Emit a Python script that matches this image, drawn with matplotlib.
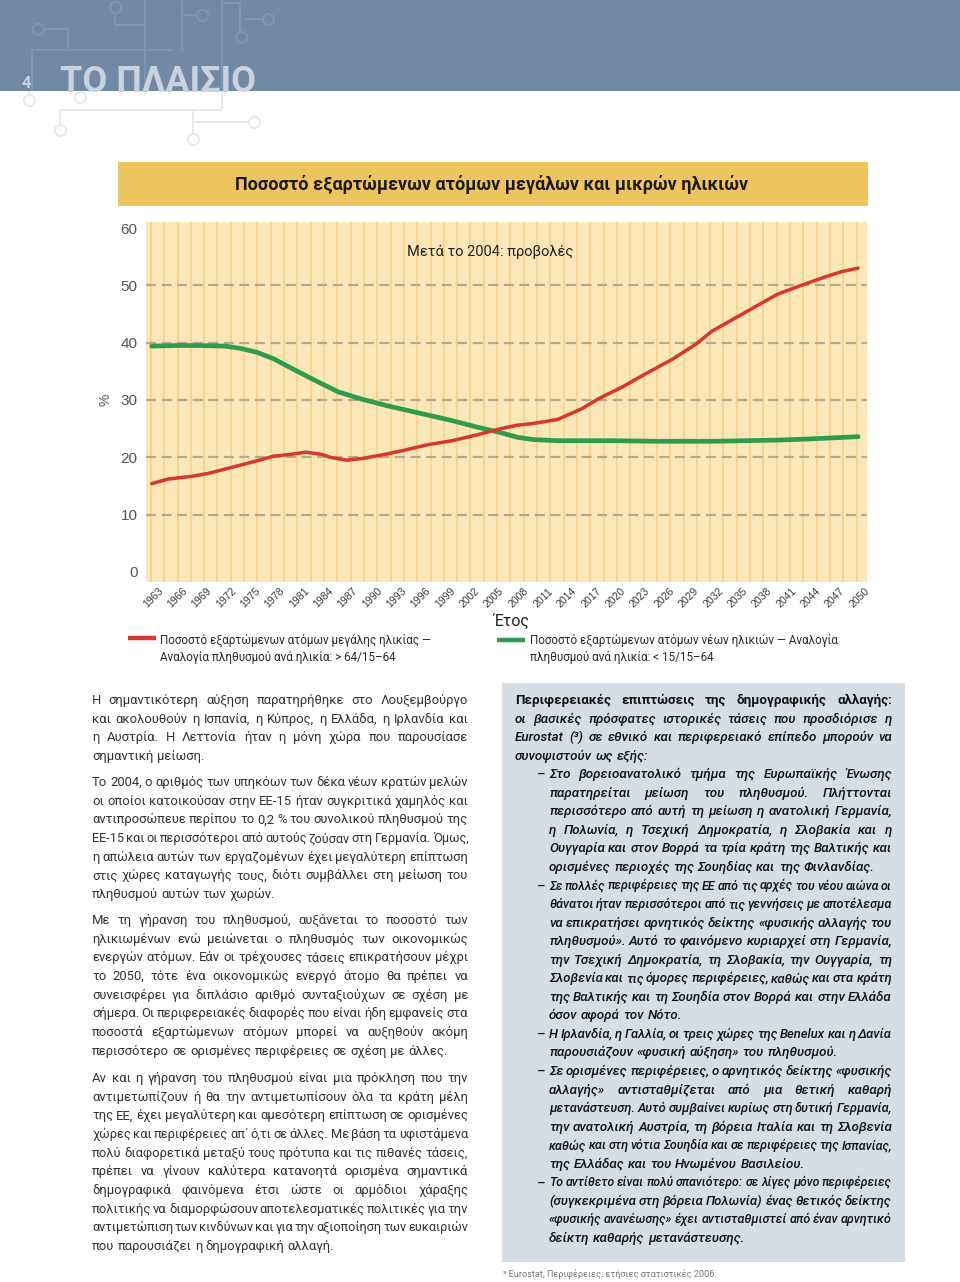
import numpy as np
import matplotlib.pyplot as plt
from matplotlib.patches import Rectangle
from matplotlib.lines import Line2D
from matplotlib.transforms import ScaledTranslation

# -----------------------------
# Data
# -----------------------------
old_years = [1963, 1965, 1968, 1970, 1973, 1976, 1978, 1980, 1982, 1984, 1985, 1987,
             1989, 1992, 1994, 1997, 2000, 2003, 2006, 2008, 2010, 2013, 2016, 2018,
             2021, 2024, 2027, 2030, 2032, 2035, 2038, 2040, 2043, 2046, 2048, 2050]
old_ratio = [15.4, 16.2, 16.7, 17.2, 18.3, 19.4, 20.2, 20.5, 20.9, 20.5, 20.0, 19.5,
             19.8, 20.6, 21.2, 22.2, 22.9, 23.9, 25.0, 25.6, 25.9, 26.6, 28.5, 30.2,
             32.3, 34.7, 37.0, 39.7, 42.0, 44.4, 46.8, 48.4, 50.0, 51.5, 52.4, 53.0]

young_years = [1963, 1966, 1969, 1972, 1974, 1976, 1978, 1980, 1983, 1986, 1989, 1992,
               1996, 2000, 2003, 2006, 2008, 2010, 2013, 2016, 2020, 2025, 2028, 2032,
               2036, 2040, 2044, 2047, 2050]
young_ratio = [39.4, 39.5, 39.5, 39.4, 39.0, 38.3, 37.2, 35.7, 33.5, 31.4, 30.1, 29.0,
               27.7, 26.4, 25.3, 24.3, 23.5, 23.1, 22.9, 22.9, 22.9, 22.8, 22.8, 22.8,
               22.9, 23.0, 23.2, 23.4, 23.6]

tick_years = list(range(1963, 2051, 3))
y_ticks = [0, 10, 20, 30, 40, 50, 60]

chart_title = "Ποσοστό εξαρτώμενων ατόμων μεγάλων και μικρών ηλικιών"
note_text = "Μετά το 2004: προβολές"
old_label = ["Ποσοστό εξαρτώμενων ατόμων μεγάλης ηλικίας —",
             "Αναλογία πληθυσμού ανά ηλικία: > 64/15–64"]
young_label = ["Ποσοστό εξαρτώμενων ατόμων νέων ηλικιών — Αναλογία",
               "πληθυσμού ανά ηλικία: < 15/15–64"]

left_paragraphs = [
    ["Η σημαντικότερη αύξηση παρατηρήθηκε στο Λουξεμβούργο",
     "και ακολουθούν η Ισπανία, η Κύπρος, η Ελλάδα, η Ιρλανδία και",
     "η Αυστρία. Η Λεττονία ήταν η μόνη χώρα που παρουσίασε",
     "σημαντική μείωση."],
    ["Το 2004, ο αριθμός των υπηκόων των δέκα νέων κρατών μελών",
     "οι οποίοι κατοικούσαν στην ΕΕ-15 ήταν συγκριτικά χαμηλός και",
     "αντιπροσώπευε περίπου το 0,2 % του συνολικού πληθυσμού της",
     "ΕΕ-15 και οι περισσότεροι από αυτούς ζούσαν στη Γερμανία. Όμως,",
     "η απώλεια αυτών των εργαζομένων έχει μεγαλύτερη επίπτωση",
     "στις χώρες καταγωγής τους, διότι συμβάλλει στη μείωση του",
     "πληθυσμού αυτών των χωρών."],
    ["Με τη γήρανση του πληθυσμού, αυξάνεται το ποσοστό των",
     "ηλικιωμένων ενώ μειώνεται ο πληθυσμός των οικονομικώς",
     "ενεργών ατόμων. Εάν οι τρέχουσες τάσεις επικρατήσουν μέχρι",
     "το 2050, τότε ένα οικονομικώς ενεργό άτομο θα πρέπει να",
     "συνεισφέρει για διπλάσιο αριθμό συνταξιούχων σε σχέση με",
     "σήμερα. Οι περιφερειακές διαφορές που είναι ήδη εμφανείς στα",
     "ποσοστά εξαρτώμενων ατόμων μπορεί να αυξηθούν ακόμη",
     "περισσότερο σε ορισμένες περιφέρειες σε σχέση με άλλες."],
    ["Αν και η γήρανση του πληθυσμού είναι μια πρόκληση που την",
     "αντιμετωπίζουν ή θα την αντιμετωπίσουν όλα τα κράτη μέλη",
     "της ΕΕ, έχει μεγαλύτερη και αμεσότερη επίπτωση σε ορισμένες",
     "χώρες και περιφέρειες απ΄ ό,τι σε άλλες. Με βάση τα υφιστάμενα",
     "πολύ διαφορετικά μεταξύ τους πρότυπα και τις πιθανές τάσεις,",
     "πρέπει να γίνουν καλύτερα κατανοητά ορισμένα σημαντικά",
     "δημογραφικά φαινόμενα έτσι ώστε οι αρμόδιοι χάραξης",
     "πολιτικής να διαμορφώσουν αποτελεσματικές πολιτικές για την",
     "αντιμετώπιση των κινδύνων και για την αξιοποίηση των ευκαιριών",
     "που παρουσιάζει η δημογραφική αλλαγή."],
]
left_starts = [700, 782, 920, 1078]

box_head = "Περιφερειακές επιπτώσεις της δημογραφικής αλλαγής:"
box_intro = ["οι βασικές πρόσφατες ιστορικές τάσεις που προσδιόρισε η",
             "Eurostat (³) σε εθνικό και περιφερειακό επίπεδο μπορούν να",
             "συνοψιστούν ως εξής:"]
box_bullets = [
    ["Στο βορειοανατολικό τμήμα της Ευρωπαϊκής Ένωσης",
     "παρατηρείται μείωση του πληθυσμού. Πλήττονται",
     "περισσότερο από αυτή τη μείωση η ανατολική Γερμανία,",
     "η Πολωνία, η Τσεχική Δημοκρατία, η Σλοβακία και η",
     "Ουγγαρία και στον Βορρά τα τρία κράτη της Βαλτικής και",
     "ορισμένες περιοχές της Σουηδίας και της Φινλανδίας."],
    ["Σε πολλές περιφέρειες της ΕΕ από τις αρχές του νέου αιώνα οι",
     "θάνατοι ήταν περισσότεροι από τις γεννήσεις με αποτέλεσμα",
     "να επικρατήσει αρνητικός δείκτης «φυσικής αλλαγής του",
     "πληθυσμού». Αυτό το φαινόμενο κυριαρχεί στη Γερμανία,",
     "την Τσεχική Δημοκρατία, τη Σλοβακία, την Ουγγαρία, τη",
     "Σλοβενία και τις όμορες περιφέρειες, καθώς και στα κράτη",
     "της Βαλτικής και τη Σουηδία στον Βορρά και στην Ελλάδα",
     "όσον αφορά τον Νότο."],
    ["Η Ιρλανδία, η Γαλλία, οι τρεις χώρες της Benelux και η Δανία",
     "παρουσιάζουν «φυσική αύξηση» του πληθυσμού."],
    ["Σε ορισμένες περιφέρειες, ο αρνητικός δείκτης «φυσικής",
     "αλλαγής» αντισταθμίζεται από μια θετική καθαρή",
     "μετανάστευση. Αυτό συμβαίνει κυρίως στη δυτική Γερμανία,",
     "την ανατολική Αυστρία, τη βόρεια Ιταλία και τη Σλοβενία",
     "καθώς και στη νότια Σουηδία και σε περιφέρειες της Ισπανίας,",
     "της Ελλάδας και του Ηνωμένου Βασιλείου."],
    ["Το αντίθετο είναι πολύ σπανιότερο: σε λίγες μόνο περιφέρειες",
     "(συγκεκριμένα στη βόρεια Πολωνία) ένας θετικός δείκτης",
     "«φυσικής ανανέωσης» έχει αντισταθμιστεί από έναν αρνητικό",
     "δείκτη καθαρής μετανάστευσης."],
]
footnote = "³ Eurostat, Περιφέρειες: ετήσιες στατιστικές 2006."

# -----------------------------
# Page setup
# -----------------------------
W, H = 960, 1282
fig = plt.figure(figsize=(W / 100, H / 100), dpi=100)
fig.patch.set_facecolor("white")

NARROW = ["Roboto", "DejaVu Sans"]
BODY = ["Roboto", "DejaVu Sans"]
ARIAL = ["Liberation Sans", "DejaVu Sans"]

RED = "#d8382c"
GREEN = "#2e9c4c"


def fx(x):
    return x / W


def fy(y):
    return 1 - y / H


def rect(x0, y0, x1, y1, color, z=0):
    fig.add_artist(Rectangle((fx(x0), fy(y1)), (x1 - x0) / W, (y1 - y0) / H,
                             transform=fig.transFigure, color=color, zorder=z, lw=0))


def seg(xs, ys, color, lw=1.5, z=1):
    fig.add_artist(Line2D([fx(v) for v in xs], [fy(v) for v in ys], color=color,
                          lw=lw, transform=fig.transFigure, zorder=z,
                          solid_capstyle="butt"))


def ring(x, y, color, ms=8, z=1):
    fig.add_artist(Line2D([fx(x)], [fy(y)], marker="o", ms=ms, mfc="none", mec=color,
                          mew=1.5, transform=fig.transFigure, zorder=z))


# header band with circuit decoration
rect(0, 0, W, 91, "#7189a4")
dec_in = "#7f96af"
seg([43, 68, 68], [29, 29, 50], dec_in); ring(38, 29, dec_in)
seg([32, 32], [50, 91], dec_in); seg([32, 173], [50, 50], dec_in)
seg([115, 115, 145], [12, 25, 25], dec_in); ring(115, 7, dec_in)
seg([145, 145], [0, 91], dec_in)
seg([182, 182], [0, 50], dec_in); seg([182, 197], [15, 15], dec_in); ring(202, 15, dec_in)
seg([222, 222], [0, 91], dec_in); seg([222, 240, 240], [3, 3, 32], dec_in); ring(241, 37, dec_in)
seg([245, 263], [19, 19], dec_in); ring(268, 19, dec_in)
dec_out = "#e7ebf0"
seg([29, 29], [91, 96], dec_out); ring(29, 100, dec_out)
seg([80, 80], [91, 93], dec_out); ring(80, 97, dec_out)
seg([60, 222], [110, 110], dec_out); seg([222, 222], [91, 110], dec_out)
seg([60, 60], [110, 125], dec_out); ring(60, 130, dec_out)
seg([193, 193], [110, 134], dec_out); ring(193, 139, dec_out)
seg([193, 248], [122, 122], dec_out); ring(254, 122, dec_out)

fig.text(fx(60), fy(92), "ΤΟ ΠΛΑΙΣΙΟ", fontsize=26, weight="bold", color="#c8d3df",
         family=NARROW, va="baseline", ha="left", zorder=3)
fig.text(fx(22), fy(88), "4", fontsize=12, weight="bold", color="#c8d3df",
         family=NARROW, va="baseline", ha="left", zorder=3)

# chart title band
rect(118, 162, 868, 206, "#eec45e")
fig.text(fx(492), fy(184), chart_title, fontsize=13, weight="bold", color="#1a1a1a",
         family=NARROW, ha="center", va="center")

# -----------------------------
# Chart
# -----------------------------
ax = fig.add_axes([fx(146), fy(582), (867 - 146) / W, (582 - 222) / H])
ax.set_facecolor("#fce7b8")
ax.set_xlim(1962.3, 2051.1)
ax.set_ylim(-1.75, 61.05)

for xs in np.arange(1962.9, 2051.1, 1.64):
    ax.axvline(xs, color="#f3d597", lw=1.5, zorder=0)
for yv in y_ticks[1:-1]:
    ax.axhline(yv, color="#b4a98b", lw=1.6, ls=(0, (4.5, 2.5)), zorder=1)

ax.plot(young_years, young_ratio, color=GREEN, lw=3.4, solid_capstyle="round",
        solid_joinstyle="round", zorder=3)
ax.plot(old_years, old_ratio, color=RED, lw=2.5, solid_capstyle="round",
        solid_joinstyle="round", zorder=4)

for s in ax.spines.values():
    s.set_visible(False)
ax.set_yticks(y_ticks)
ax.set_yticklabels([str(v) for v in y_ticks], fontsize=11, color="#555555", family=ARIAL)
ax.set_xticks(tick_years)
ax.set_xticklabels([str(v) for v in tick_years], fontsize=7.6, color="#3a3a3a",
                   family=ARIAL, rotation=45, ha="right", rotation_mode="anchor")
ax.tick_params(axis="both", length=0)
ax.tick_params(axis="y", pad=6)
ax.tick_params(axis="x", pad=3)
shift = ScaledTranslation(6 / 100, 0, fig.dpi_scale_trans)
for lab in ax.get_xticklabels():
    lab.set_transform(lab.get_transform() + shift)

fig.text(fx(106), fy(400), "%", fontsize=10, color="#555555", family=ARIAL,
         rotation=90, ha="center", va="center")
fig.text(fx(512), fy(621), "Έτος", fontsize=11.5, color="#222222", family=NARROW,
         ha="center", va="center")
fig.text(fx(490), fy(252), note_text, fontsize=10.5, color="#222222", family=NARROW,
         ha="center", va="center")

# legend
seg([128, 156], [638, 638], RED, lw=3.2)
seg([497, 525], [640, 640], GREEN, lw=3.2)
for i, t in enumerate(old_label):
    fig.text(fx(160), fy(644 + i * 17), t, fontsize=8.4, color="#2a2a2a",
             family=NARROW, ha="left", va="baseline")
for i, t in enumerate(young_label):
    fig.text(fx(530), fy(644 + i * 17), t, fontsize=8.4, color="#2a2a2a",
             family=NARROW, ha="left", va="baseline")

# -----------------------------
# Justified text columns
# -----------------------------
renderer = fig.canvas.get_renderer()


def put_line(line, x0, x1, yc, size, last, **kw):
    words = line.split()
    arts = [fig.text(0, 0, w, fontsize=size, va="baseline", ha="left", **kw)
            for w in words]
    widths = [a.get_window_extent(renderer).width for a in arts]
    em = size * 100 / 72
    gaps = len(words) - 1
    total = sum(widths)
    if last or gaps == 0:
        space = 0.26 * em
    else:
        space = (x1 - x0 - total) / gaps
        if space < 0.16 * em:
            space = 0.16 * em
            scale = (x1 - x0 - gaps * space) / total
            for a in arts:
                a.set_fontsize(size * scale)
            widths = [w * scale for w in widths]
    x = x0
    for a, w in zip(arts, widths):
        a.set_position((fx(x), fy(yc + 4)))
        x += w + space


LS = 18.65
for para, y0 in zip(left_paragraphs, left_starts):
    for i, line in enumerate(para):
        put_line(line, 92, 468, y0 + i * LS, 9.4, i == len(para) - 1,
                 family=BODY, color="#333333")

# right box
rect(502, 683, 905, 1262, "#d5dde5")
RS = 18.55
row = 0
put_line(box_head, 515, 892, 700, 9.6, False, family=BODY, weight="bold",
         color="#111111")
row += 1
for i, line in enumerate(box_intro):
    put_line(line, 515, 892, 700 + row * RS, 9.6, i == len(box_intro) - 1,
             family=BODY, style="italic", weight="medium", color="#111111")
    row += 1
for bullet in box_bullets:
    fig.text(fx(537), fy(700 + row * RS + 4), "–", fontsize=9.6, family=BODY,
             style="italic", weight="medium", color="#111111", ha="left", va="baseline")
    for i, line in enumerate(bullet):
        put_line(line, 549, 892, 700 + row * RS, 9.6, i == len(bullet) - 1,
                 family=BODY, style="italic", weight="medium", color="#111111")
        row += 1

fig.text(fx(503), fy(1277), footnote, fontsize=6.6, color="#7a7a7a", family=NARROW,
         ha="left", va="baseline")

plt.savefig("out.png", dpi=100)
